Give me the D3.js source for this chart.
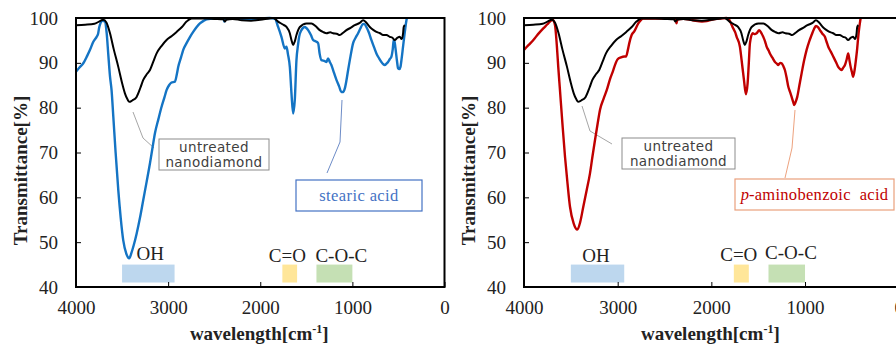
<!DOCTYPE html>
<html><head><meta charset="utf-8">
<script src="https://cdn.jsdelivr.net/npm/d3@7"></script>
<style>
html,body{margin:0;padding:0;background:#fff;}
svg{display:block;}
</style></head>
<body>
<svg id="chart" width="896" height="344"></svg>
<script>
// ---------- DATA ----------
const xTicks = [4000, 3000, 2000, 1000, 0];
const yTicks = [40, 50, 60, 70, 80, 90, 100];

// untreated nanodiamond  [wavenumber, transmittance %]
const untreated = [[4000,98.4],[3900,98.5],[3800,98.7],[3750,99.2],[3704,99.6],[3670,99],[3631,96.6],[3590,93],[3541,89.1],[3500,85.5],[3469,83.2],[3440,81.8],[3422,81.3],[3390,81.6],[3342,82.4],[3300,84.5],[3270,86.2],[3230,87.5],[3197,88.4],[3160,90.3],[3125,92.1],[3070,93.8],[3017,95.1],[2960,96],[2908,96.9],[2850,98],[2800,99.2],[2745,99.9],[2600,99.9],[2500,99.8],[2400,99.7],[2384,99.2],[2370,99.6],[2300,99.8],[2200,99.5],[2100,99.4],[2000,99.6],[1900,99.9],[1860,100],[1806,99.2],[1760,98.6],[1715,98],[1679,96.6],[1660,95],[1643,94],[1625,94.8],[1607,96.2],[1570,98],[1498,98.8],[1444,98.8],[1400,98.2],[1354,97.3],[1320,96.9],[1281,96.6],[1240,96.8],[1209,96.6],[1170,96.5],[1137,96.2],[1100,96.7],[1064,97.3],[1020,97.8],[974,98.4],[920,98.9],[884,99.5],[850,99],[811,98],[770,97.3],[739,96.9],[700,96.6],[667,96.2],[630,96.2],[594,95.8],[565,95.6],[540,95.1],[510,95.6],[486,95.8],[465,95.3],[450,96.5],[443,98],[430,98.4]];

// stearic acid modified
const stearic = [[4000,88],[3960,89],[3921,89.9],[3880,91.5],[3848,92.9],[3812,94.7],[3776,95.8],[3760,96.5],[3747,98],[3711,99.4],[3686,99.2],[3667,96.6],[3650,92],[3631,87],[3614,83.9],[3595,78],[3570,70],[3541,61.6],[3515,55.5],[3487,50.4],[3455,47.5],[3422,46.4],[3400,47.5],[3375,49.2],[3342,51.9],[3305,55.5],[3270,59.4],[3233,63.5],[3197,67.6],[3170,71],[3143,74.3],[3105,77.5],[3071,80.2],[3040,82.3],[3017,83.9],[2990,85],[2963,85.6],[2926,85.8],[2905,87.5],[2890,89.1],[2860,91.2],[2836,92.9],[2800,94.4],[2765,95.7],[2728,96.9],[2690,98],[2655,98.8],[2620,99.3],[2583,99.7],[2500,99.9],[2400,99.9],[2390,99.2],[2375,99.8],[2300,99.9],[2200,99.8],[2100,99.7],[2000,99.9],[1900,100],[1842,99.9],[1806,98],[1770,95.8],[1733,93.2],[1715,93.6],[1700,92],[1679,89.1],[1661,83.2],[1643,78.7],[1625,81.7],[1607,90.6],[1590,94],[1578,95.8],[1553,97.3],[1517,98],[1480,97.3],[1450,96.2],[1426,95.1],[1400,94.8],[1372,94.4],[1355,92],[1336,90.6],[1300,90.4],[1281,90.2],[1264,91],[1245,90.2],[1228,89.5],[1200,87.8],[1173,86.2],[1145,84.8],[1119,83.5],[1100,83.5],[1082,84.3],[1065,86],[1046,88.4],[1020,91.5],[992,94.4],[965,95.6],[938,96.6],[910,97.8],[884,98.7],[866,98.6],[848,98],[820,96.7],[794,95.1],[765,93.5],[739,92.1],[710,91],[685,90.2],[665,89.7],[649,89.5],[630,89.8],[613,90.2],[595,90.8],[576,91.4],[562,93],[551,95.1],[540,94.5],[530,92.9],[515,90.3],[504,88.8],[490,88.6],[478,89.1],[465,91],[450,93.6],[430,97],[413,99.5],[408,100]];

// p-aminobenzoic acid modified
const paba = [[4000,92.9],[3950,94],[3900,95.1],[3850,96.4],[3794,97.7],[3750,98.6],[3723,99.2],[3694,99.6],[3669,98.4],[3650,94],[3634,89],[3616,83.9],[3590,76.5],[3562,69],[3535,63],[3509,57.9],[3470,54.2],[3431,52.8],[3400,54.5],[3367,57.9],[3330,61.7],[3296,65.3],[3270,69],[3242,72.8],[3215,76.3],[3189,79.5],[3150,82],[3117,83.9],[3080,86.5],[3053,88],[3029,89.5],[3000,90.8],[2965,91.2],[2930,91.4],[2911,91.4],[2890,93],[2876,94.4],[2851,96.2],[2823,97],[2780,98.8],[2750,99.6],[2733,99.9],[2600,99.9],[2500,99.9],[2380,99.9],[2372,98.8],[2362,99.7],[2300,99.8],[2200,99.5],[2100,99.2],[2050,99.3],[2000,99.6],[1900,99.9],[1840,100],[1820,99.9],[1790,98.8],[1767,97.7],[1745,96.8],[1730,95.8],[1695,93.6],[1677,90.6],[1652,86.2],[1631,83],[1613,85.4],[1600,90],[1588,94.4],[1559,96.6],[1535,96.4],[1517,96.6],[1489,97.3],[1465,96.6],[1446,95.8],[1425,94.7],[1410,93.6],[1390,92.8],[1375,92.1],[1350,91.2],[1321,90.2],[1300,89.8],[1286,89.5],[1265,90],[1250,89.9],[1230,89.2],[1215,88.4],[1195,86.5],[1179,84.7],[1160,83.5],[1143,82.4],[1125,81.2],[1115,80.6],[1100,81.3],[1083,82.4],[1060,85],[1036,87.7],[1010,90.5],[983,92.9],[955,94.8],[930,96.2],[905,97.5],[884,98.2],[860,97.9],[841,97.3],[815,96.5],[788,95.8],[770,94.7],[752,93.6],[725,92.5],[699,91.4],[670,90.2],[646,89.1],[625,88.6],[610,88.4],[590,89],[574,89.5],[555,90.8],[539,92.1],[525,90.5],[513,89.1],[500,88],[486,86.9],[470,88.5],[457,90.6],[444,93],[432,95.8],[420,98],[407,99.9]];

// functional-group bands [name, wn from, wn to]
const bandNames = ["OH", "C=O", "C-O-C"];
const bandRanges = [[3500, 2930], [1760, 1600], [1390, 1000]];
const bandColors = ["#BDD7EE", "#FFE699", "#C5E0B4"];

// ---------- LAYOUT ----------
const svg = d3.select("#chart");
const Y_TOP = 18, Y_BOT = 287;
const serif = "'Liberation Serif','Times New Roman',serif";
const sans = "'DejaVu Sans','Noto Sans',sans-serif";

const panels = [
  { x0: 76, x1: 444.5, series: stearic, color: "#1474C4",
    bandLabelPos: [[3195, 47.6], [1706, 47.1], [1120, 47.1]],
    untBox: [159, 139, 110, 31], untLeader: [[133,112],[143,138],[154,148]],
    sBox: [296, 180, 126, 31], sLeader: [[342,100],[340,142],[327,173]],
    sBorder: "#4472C4", sText: "#4472C4", sLeaderColor: "#6D8CC7", label: "stearic" },
  { x0: 524, x1: 898.7, series: paba, color: "#C00000",
    bandLabelPos: [[3232, 47.1], [1707, 47.3], [1150, 47.8]],
    untBox: [622, 138, 113, 31], untLeader: [[582,106],[590,131],[612,144]],
    sBox: [735, 179, 159, 31], sLeader: [[795,110],[792,148],[785,178]],
    sBorder: "#E9A07C", sText: "#C00000", sLeaderColor: "#EDA27E", label: "paba" }
];

panels.forEach(p => {
  const x = d3.scaleLinear().domain([4000, 0]).range([p.x0, p.x1]);
  const y = d3.scaleLinear().domain([40, 100]).range([Y_BOT, Y_TOP]);
  const g = svg.append("g");

  // clip
  const cid = "clip" + p.label;
  svg.append("clipPath").attr("id", cid).append("rect")
    .attr("x", p.x0).attr("y", Y_TOP - 2).attr("width", p.x1 - p.x0).attr("height", Y_BOT - Y_TOP + 2);

  // bands
  bandRanges.forEach((r, i) => {
    g.append("rect")
      .attr("x", x(r[0])).attr("width", x(r[1]) - x(r[0]))
      .attr("y", y(45)).attr("height", y(41) - y(45))
      .attr("fill", bandColors[i]);
    g.append("text")
      .attr("x", x(p.bandLabelPos[i][0])).attr("y", y(p.bandLabelPos[i][1]))
      .attr("text-anchor", "middle").attr("dy", "0.35em")
      .attr("font-family", serif).attr("font-size", 19).attr("fill", "#222")
      .text(bandNames[i]);
  });

  // leader lines
  const ln = d3.line();
  g.append("path").attr("d", ln(p.untLeader)).attr("fill", "none")
    .attr("stroke", "#A6A6A6").attr("stroke-width", 1);
  g.append("path").attr("d", ln(p.sLeader)).attr("fill", "none")
    .attr("stroke", p.sLeaderColor).attr("stroke-width", 1);

  // lines
  const line = d3.line().x(d => x(d[0])).y(d => y(d[1])).curve(d3.curveMonotoneX);
  const lg = g.append("g").attr("clip-path", `url(#${cid})`);
  lg.append("path").datum(p.series).attr("d", line).attr("fill", "none")
    .attr("stroke", p.color).attr("stroke-width", 2.4).attr("stroke-linejoin", "round");
  lg.append("path").datum(untreated).attr("d", line).attr("fill", "none")
    .attr("stroke", "#000").attr("stroke-width", 2).attr("stroke-linejoin", "round");

  // frame
  g.append("rect").attr("x", p.x0).attr("y", Y_TOP).attr("width", p.x1 - p.x0).attr("height", Y_BOT - Y_TOP)
    .attr("fill", "none").attr("stroke", "#000").attr("stroke-width", 2);

  // axes
  const xa = g.append("g").attr("transform", `translate(0,${Y_BOT})`)
    .call(d3.axisBottom(x).tickValues(xTicks).tickSizeInner(-5).tickSizeOuter(0).tickPadding(14).tickFormat(d3.format("d")));
  xa.select(".domain").remove();
  xa.selectAll("line").attr("stroke", "#000").attr("stroke-width", 1);
  xa.selectAll("text").attr("font-family", serif).attr("font-size", 19).attr("fill", "#222");

  const ya = g.append("g").attr("transform", `translate(${p.x0},0)`)
    .call(d3.axisLeft(y).tickValues(yTicks).tickSizeInner(-5).tickSizeOuter(0).tickPadding(18).tickFormat(d3.format("d")));
  ya.select(".domain").remove();
  ya.selectAll("line").attr("stroke", "#000").attr("stroke-width", 1);
  ya.selectAll("text").attr("font-family", serif).attr("font-size", 19).attr("fill", "#222");

  // axis titles
  g.append("text").attr("transform", `translate(${p.x0 - 56},${(Y_TOP + Y_BOT) / 2 + 18}) rotate(-90)`)
    .attr("text-anchor", "middle").attr("dy", "0.35em")
    .attr("font-family", serif).attr("font-size", 19).attr("font-weight", "bold").attr("fill", "#222")
    .text("Transmittance[%]");
  const xt = g.append("text").attr("x", (x(2000) - 1)).attr("y", 340)
    .attr("text-anchor", "middle")
    .attr("font-family", serif).attr("font-size", 19).attr("font-weight", "bold").attr("fill", "#222");
  xt.append("tspan").text("wavelength[cm");
  xt.append("tspan").attr("font-size", 12).attr("dy", -7).text("-1");
  xt.append("tspan").attr("dy", 7).text("]");

  // untreated annotation box
  const ub = p.untBox;
  g.append("rect").attr("x", ub[0]).attr("y", ub[1]).attr("width", ub[2]).attr("height", ub[3])
    .attr("fill", "#fff").attr("stroke", "#8C8C8C").attr("stroke-width", 1);
  ["untreated", "nanodiamond"].forEach((t, i) => {
    g.append("text").attr("x", ub[0] + ub[2] / 2).attr("y", ub[1] + 8 + i * 15)
      .attr("text-anchor", "middle").attr("dy", "0.35em")
      .attr("font-family", sans).attr("font-size", 13.5).attr("letter-spacing", 0.4).attr("fill", "#404040")
      .text(t);
  });

  // sample annotation box
  const sb = p.sBox;
  g.append("rect").attr("x", sb[0]).attr("y", sb[1]).attr("width", sb[2]).attr("height", sb[3])
    .attr("fill", "#fff").attr("stroke", p.sBorder).attr("stroke-width", 1.2);
  const st = g.append("text").attr("x", sb[0] + sb[2] / 2).attr("y", sb[1] + sb[3] / 2)
    .attr("text-anchor", "middle").attr("dy", "0.35em")
    .attr("font-family", serif).attr("font-size", 16.5).attr("fill", p.sText);
  if (p.label === "stearic") {
    st.attr("letter-spacing", 0.4).text("stearic acid");
  } else {
    st.append("tspan").attr("font-style", "italic").text("p");
    st.append("tspan").attr("letter-spacing", 0.3).text("-aminobenzoic\u00A0 acid");
  }
});
</script>
</body></html>
